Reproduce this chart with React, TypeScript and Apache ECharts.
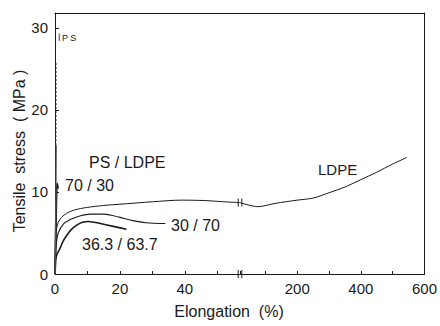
import React, { useEffect, useRef } from "react";
import * as echarts from "echarts";

// ---- data ----
const LDPE_LEFT: number[][] = [[0, 0], [0.15, 3.5], [0.4, 5.3], [1, 6.3], [2, 6.9], [3.6, 7.4], [6, 7.8], [9.7, 8.1], [15, 8.35], [20, 8.5], [30, 8.8], [39, 9.0], [46, 8.95], [52, 8.8], [57, 8.7]];
const LDPE_RIGHT: number[][] = [[20, 8.7], [76, 8.2], [130, 8.6], [200, 9.0], [250, 9.25], [300, 9.9], [350, 10.6], [400, 11.5], [450, 12.4], [500, 13.4], [545, 14.2]];
const PS_30_70: number[][] = [[0, 0], [0.2, 2.5], [0.5, 4.0], [1, 5.0], [2.6, 6.1], [4.5, 6.6], [6.7, 6.95], [9, 7.2], [11, 7.3], [15, 7.3], [18, 7.1], [21, 6.8], [24, 6.5], [28, 6.25], [34, 6.15]];
const PS_363_637: number[][] = [[0, 0], [0.2, 1.7], [0.6, 2.4], [1.5, 3.1], [2.5, 4.0], [3.6, 4.7], [5, 5.4], [6.7, 5.95], [8.5, 6.3], [10.3, 6.4], [12, 6.3], [14, 6.15], [18, 5.8], [22, 5.45]];
const PS_70_30: number[][] = [[0, 0], [0.2, 4], [0.35, 8], [0.5, 10.3], [0.7, 11.0], [0.9, 10.4]];
const PS_SOLID: number[][] = [[0, 0], [0.25, 8], [0.4, 15.7]];
const PS_DOTTED: number[][] = [[0.4, 15.7], [0.5, 25.9]];
const PS_MARK: number[][] = [[1.3, 28.4], [1.3, 29.3]];

const Y_MAX = 31.8;
const LEFT_X_MAX = 57;
const RIGHT_X_MIN = 20;
const RIGHT_X_MAX = 600;
const RIGHT_TICKS = [100, 200, 300, 400, 500, 600];
const RIGHT_LABELS = [200, 400, 600];

const FONT = "Liberation Sans";
const INK = "#1a1a1a";

export default function App() {
  const ref = useRef<HTMLDivElement>(null);
  useEffect(() => {
    if (!ref.current) return;
    const chart = echarts.init(ref.current, null, { renderer: "svg" });
    const axisLine = { show: true, onZero: false, lineStyle: { color: INK, width: 1 } };
    const lineSeries = (name: string, data: number[][], gi: number, width = 1, color = INK, type: any = "solid") => ({
      name,
      type: "line",
      xAxisIndex: gi === 0 ? 0 : 1,
      yAxisIndex: gi === 0 ? 0 : 1,
      data,
      showSymbol: false,
      smooth: 0.3,
      lineStyle: { color, width, type },
      silent: true,
    });
    const breakMark = (x: number, y: number) => [
      { type: "line", shape: { x1: x - 1.8, y1: y - 4, x2: x - 1.8, y2: y + 4 }, style: { stroke: INK, lineWidth: 1 } },
      { type: "line", shape: { x1: x + 1.8, y1: y - 4, x2: x + 1.8, y2: y + 4 }, style: { stroke: INK, lineWidth: 1 } },
    ];
    chart.setOption({
      animation: false,
      backgroundColor: "#ffffff",
      textStyle: { fontFamily: FONT },
      grid: [
        { left: 55, top: 13, width: 185, height: 261 },
        { left: 240, top: 13, width: 185, height: 261 },
      ],
      xAxis: [
        {
          type: "value", gridIndex: 0, min: 0, max: LEFT_X_MAX, interval: 10,
          axisLine, splitLine: { show: false },
          axisTick: { show: true, inside: true, length: 3, lineStyle: { color: INK } },
          axisLabel: { color: INK, fontSize: 15, fontFamily: FONT, margin: 7, formatter: (v: number) => (v % 20 === 0 ? String(v) : "") },
        },
        {
          type: "value", gridIndex: 1, min: RIGHT_X_MIN, max: RIGHT_X_MAX,
          axisLine, splitLine: { show: false },
          axisTick: { show: true, inside: true, length: 3, lineStyle: { color: INK }, customValues: RIGHT_TICKS },
          axisLabel: { color: INK, fontSize: 15, fontFamily: FONT, margin: 7, customValues: RIGHT_LABELS },
        },
        { type: "value", gridIndex: 0, position: "top", min: 0, max: 1, axisLine, axisTick: { show: false }, axisLabel: { show: false }, splitLine: { show: false } },
        { type: "value", gridIndex: 1, position: "top", min: 0, max: 1, axisLine, axisTick: { show: false }, axisLabel: { show: false }, splitLine: { show: false } },
      ],
      yAxis: [
        {
          type: "value", gridIndex: 0, position: "left", min: 0, max: Y_MAX, interval: 10,
          axisLine, splitLine: { show: false },
          axisTick: { show: true, inside: true, length: 4, lineStyle: { color: INK } },
          axisLabel: { color: INK, fontSize: 15, fontFamily: FONT, margin: 7 },
        },
        {
          type: "value", gridIndex: 1, position: "right", min: 0, max: Y_MAX, interval: 10,
          axisLine, splitLine: { show: false }, axisTick: { show: false }, axisLabel: { show: false },
        },
      ],
      series: [
        lineSeries("LDPE", LDPE_LEFT, 0, 1),
        lineSeries("LDPE right", LDPE_RIGHT, 1, 1),
        lineSeries("30/70", PS_30_70, 0, 1.1),
        lineSeries("36.3/63.7", PS_363_637, 0, 1.6),
        lineSeries("70/30", PS_70_30, 0, 2),
        lineSeries("PS", PS_SOLID, 0, 1.2, "#555"),
        lineSeries("PS dotted", PS_DOTTED, 0, 1, "#888", [2, 2]),
        { ...lineSeries("PS mark", PS_MARK, 0, 1, "#444"), smooth: false },
      ],
      graphic: [
        ...breakMark(240, 274),
        ...breakMark(240, 202.5),
        { type: "text", left: 62, top: 33, style: { text: "P S", font: `9px ${FONT}`, fill: INK } },
        { type: "text", left: 89, top: 154, style: { text: "PS / LDPE", font: `16px ${FONT}`, fill: INK } },
        { type: "text", left: 65, top: 177, style: { text: "70 / 30", font: `16px ${FONT}`, fill: INK } },
        { type: "text", left: 171, top: 217, style: { text: "30 / 70", font: `16px ${FONT}`, fill: INK } },
        { type: "text", left: 82, top: 236, style: { text: "36.3 / 63.7", font: `16px ${FONT}`, fill: INK } },
        { type: "text", left: 318, top: 162, style: { text: "LDPE", font: `15px ${FONT}`, fill: INK } },
        {
          type: "text", x: 19, y: 151, rotation: Math.PI / 2,
          style: { text: "Tensile  stress  ( MPa )", font: `16px ${FONT}`, fill: INK, align: "center", verticalAlign: "middle" },
        },
        {
          type: "text", x: 229, y: 311,
          style: { text: "Elongation  (%)", font: `16px ${FONT}`, fill: INK, align: "center", verticalAlign: "middle" },
        },
      ],
    });
    return () => chart.dispose();
  }, []);
  return <div ref={ref} style={{ width: 440, height: 326, position: "absolute", left: 0, top: 0 }} />;
}
